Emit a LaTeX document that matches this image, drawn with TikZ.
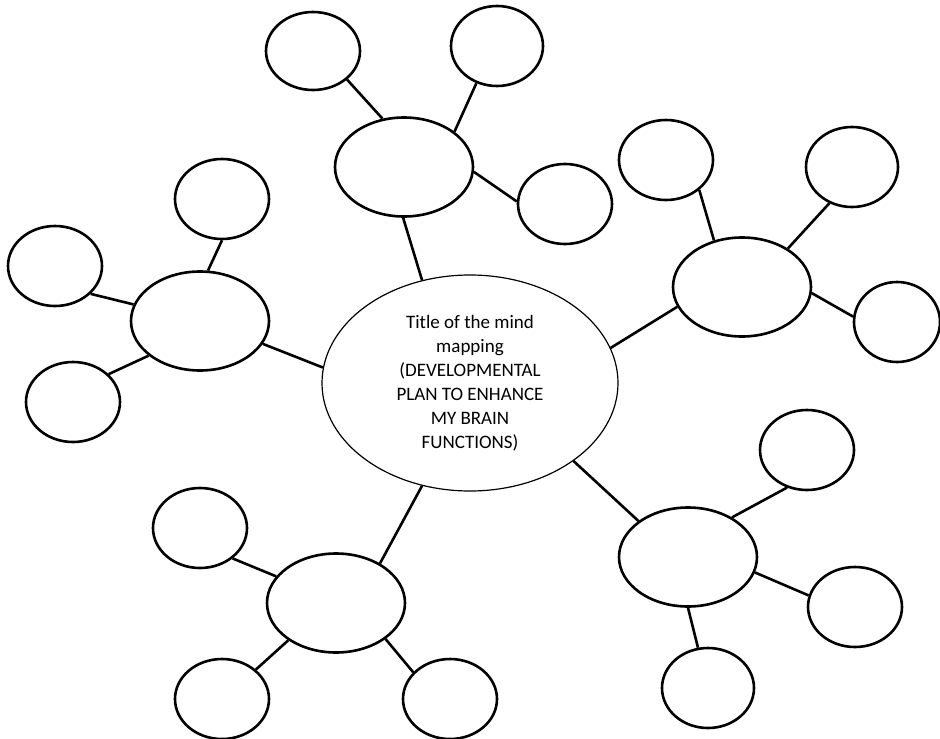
\documentclass[tikz,border=0pt]{standalone}
\usepackage{fontspec}
\setmainfont{Carlito}
\usetikzlibrary{shapes.geometric}
\tikzset{
  bub/.style={draw=black, ellipse, line width=2.6pt, inner sep=0pt, fill=white},
  sat/.style={bub, minimum width=94pt, minimum height=80pt},
  hub/.style={bub, minimum width=138pt, minimum height=99pt},
  link/.style={draw=black, line width=2.6pt},
  core/.style={draw=black, ellipse, line width=1.2pt, inner sep=0pt,
    minimum width=296pt, minimum height=216pt, align=center,
    font=\fontsize{19}{24}\selectfont}
}
\begin{document}
\begin{tikzpicture}[x=1pt, y=-1pt]
\useasboundingbox (0,0) rectangle (940,739);
% central
\node[core] (C) at (470,383) {Title of the mind\\mapping\\(DEVELOPMENTAL\\PLAN TO ENHANCE\\MY BRAIN\\FUNCTIONS)};
% hubs
\node[hub] (HT) at (404,167) {};
\node[hub] (HL) at (200,321) {};
\node[hub] (HR) at (742,287) {};
\node[hub] (HBL) at (336,603) {};
\node[hub] (HBR) at (688,557) {};
% satellites
\node[sat, minimum height=78pt] (S1) at (313,51) {};
\node[sat, minimum width=92pt] (S2) at (497,46) {};
\node[sat] (S3) at (565,204) {};
\node[sat] (S4) at (222,199) {};
\node[sat] (S5) at (55,266) {};
\node[sat] (S6) at (73,402) {};
\node[sat] (S7) at (666,160) {};
\node[sat, minimum width=92pt] (S8) at (852,167) {};
\node[sat, minimum width=86pt] (S9) at (897,322) {};
\node[sat] (S10) at (200,528) {};
\node[sat] (S11) at (222,699) {};
\node[sat] (S12) at (450,699) {};
\node[sat] (S13) at (807,450) {};
\node[sat] (S14) at (855,607) {};
\node[sat, minimum width=92pt] (S15) at (708,688) {};
% links
\path[link] (S1.-40.5) -- (HT.114.6);
\path[link] (S2.-119.6) -- (HT.35.8);
\path[link] (HT.-4.8) -- (S3.177.6);
\path[link] (HT.-91) -- (C.115.1);
\path[link] (S4.-90) -- (HL.81);
\path[link] (S5.-38.7) -- (HL.166.6);
\path[link] (S6.38.1) -- (HL.-146);
\path[link] (HL.-20.9) -- (C.174);
\path[link] (S7.-42.3) -- (HR.121);
\path[link] (S8.-122) -- (HR.40.9);
\path[link] (HR.-5.6) -- (S9.173.5);
\path[link] (HR.-163.8) -- (C.14.6);
\path[link] (S10.-43) -- (HBL.156.2);
\path[link] (S11.41.3) -- (HBL.-142.9);
\path[link] (HBL.-36) -- (S12.144.6);
\path[link] (HBL.42.3) -- (C.-115.3);
\path[link] (C.-37) -- (HBR.144.5);
\path[link] (HBR.42.4) -- (S13.-118.8);
\path[link] (HBR.-13) -- (S14.166.2);
\path[link] (HBR.-90) -- (S15.104);
\end{tikzpicture}
\end{document}
